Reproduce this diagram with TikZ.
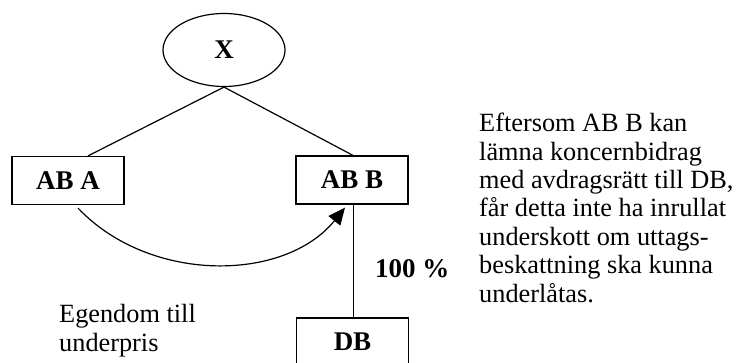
\documentclass[tikz,border=0pt]{standalone}
\usepackage{fontspec}
\setmainfont{Liberation Serif}
\usetikzlibrary{shapes.geometric,arrows.meta}

\tikzset{
  every picture/.style={x=1pt,y=-1pt},
  conn/.style={line width=1.2pt},
  company/.style={draw,line width=1.2pt,rectangle,minimum width=112pt,minimum height=48pt,
    inner sep=0pt,font=\fontsize{27pt}{28.5pt}\selectfont\bfseries},
  owner/.style={draw,line width=1.2pt,ellipse,minimum width=122pt,minimum height=73pt,
    inner sep=0pt,font=\fontsize{27pt}{28.5pt}\selectfont\bfseries},
  note/.style={inner sep=0pt,align=left,font=\fontsize{26.3pt}{28.4pt}\selectfont},
  pct/.style={inner sep=0pt,font=\fontsize{27pt}{28.5pt}\selectfont\bfseries},
}

\begin{document}
\begin{tikzpicture}
  \clip (0,0) rectangle (738,363);
  \fill[white] (0,0) rectangle (738,363);

  % group structure
  \node[owner]   (x)   at (224,50)    {X};
  \node[company] (aba) at (68,180.5)  {AB A};
  \node[company] (abb) at (352,180)   {AB B};
  \node[company] (db)  at (352.5,342) {DB};

  \draw[conn] (x.south) -- ([xshift=20pt]aba.north);
  \draw[conn] (x.south) -- ([xshift=1pt]abb.north);
  \draw[conn] ([xshift=1.5pt]abb.south) -- ([xshift=1pt]db.north);

  % transfer of property below market value
  \draw[conn,-{Triangle[length=17pt,width=15pt]}]
    ([xshift=10pt,yshift=-3pt]aba.south)
      .. controls (150,284) and (285,282) ..
    ([xshift=-7pt,yshift=-3pt]abb.south);

  % labels (base anchor sits on the last line)
  \node[pct,anchor=base west] (share) at (375,277) {100 \%};
  \node[note,anchor=base west] (prop) at (59,351) {Egendom till\\underpris};
  \node[note,anchor=base west] (expl) at (479,302)
    {Eftersom AB B kan\\lämna koncernbidrag\\med avdragsrätt till DB,\\får detta inte ha inrullat\\underskott om uttags-\\beskattning ska kunna\\underlåtas.};
\end{tikzpicture}
\end{document}
